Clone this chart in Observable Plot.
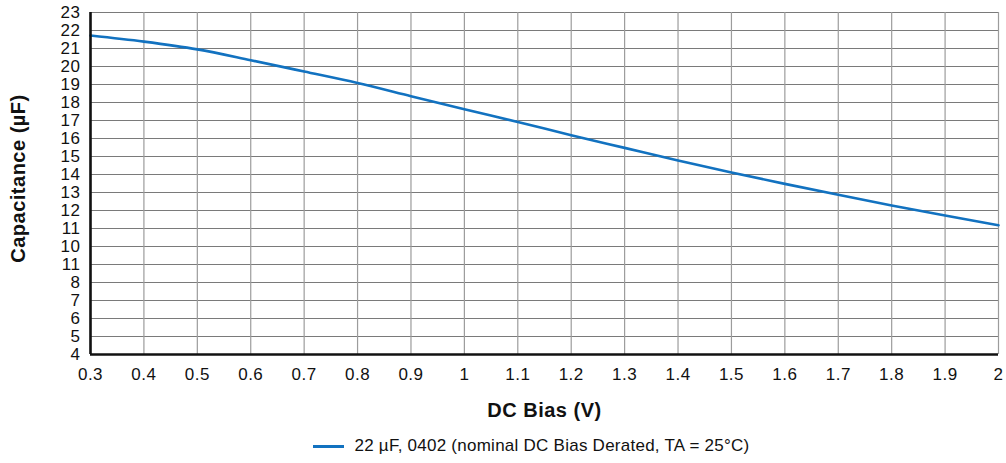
<!DOCTYPE html>
<html>
<head>
<meta charset="utf-8">
<script src="https://cdn.jsdelivr.net/npm/d3@7"></script>
<script src="https://cdn.jsdelivr.net/npm/@observablehq/plot@0.6"></script>
<style>
  html, body { margin: 0; padding: 0; background: #fff; }
  body { width: 1006px; height: 463px; overflow: hidden; font-family: "Liberation Sans", Arial, sans-serif; }
  #legend { display: flex; align-items: center; justify-content: center; height: 42px; padding-left: 57px; font-size: 17px; letter-spacing: 0.25px; color: #111; }
  #legend .sw { width: 31px; height: 0; border-top: 3px solid #1272c0; margin-right: 10px; }
</style>
</head>
<body>
<div id="chart"></div>
<div id="legend"><span class="sw"></span><span id="legtext"></span></div>
<script>
const dcBias = [0.3, 0.4, 0.5, 0.6, 0.7, 0.8, 0.9, 1.0, 1.1, 1.2, 1.3, 1.4, 1.5, 1.6, 1.7, 1.8, 1.9, 2.0];
const capacitance = [21.72, 21.38, 20.95, 20.35, 19.72, 19.08, 18.35, 17.62, 16.92, 16.18, 15.48, 14.78, 14.11, 13.48, 12.87, 12.28, 11.72, 11.18];
const xTicks = [0.3, 0.4, 0.5, 0.6, 0.7, 0.8, 0.9, 1.0, 1.1, 1.2, 1.3, 1.4, 1.5, 1.6, 1.7, 1.8, 1.9, 2.0];
const xTickLabels = ["0.3", "0.4", "0.5", "0.6", "0.7", "0.8", "0.9", "1", "1.1", "1.2", "1.3", "1.4", "1.5", "1.6", "1.7", "1.8", "1.9", "2"];
const yTicks = [4, 5, 6, 7, 8, 9, 10, 11, 12, 13, 14, 15, 16, 17, 18, 19, 20, 21, 22, 23];
const yTickLabels = ["4", "5", "6", "7", "8", "11", "10", "11", "12", "13", "14", "15", "16", "17", "18", "19", "20", "21", "22", "23"];
const xTitle = "DC Bias (V)";
const yTitle = "Capacitance (\u00b5F)";
const seriesName = "22 \u00b5F, 0402 (nominal DC Bias Derated, TA = 25\u00b0C)";

const data = dcBias.map((x, i) => ({x, y: capacitance[i]}));
const xLab = new Map(xTicks.map((t, i) => [t, xTickLabels[i]]));
const yLab = new Map(yTicks.map((t, i) => [t, yTickLabels[i]]));

const chart = Plot.plot({
  width: 1006,
  height: 425,
  marginLeft: 90,
  marginRight: 8,
  marginTop: 12,
  marginBottom: 71,
  style: {fontFamily: "'Liberation Sans', Arial, sans-serif", fontSize: "17px", letterSpacing: "0.5px", color: "#111", background: "#fff"},
  x: {domain: [0.3, 2.0], label: null},
  y: {domain: [4, 23], label: null},
  marks: [
    Plot.ruleY(yTicks, {stroke: "#7a7a7a", strokeWidth: 1, strokeOpacity: 1}),
    Plot.ruleX(xTicks, {stroke: "#9c9c9c", strokeWidth: 1.2, strokeOpacity: 1}),
    Plot.axisX(xTicks, {tickSize: 0, tickPadding: 13, tickFormat: d => xLab.get(d), fontSize: 17, label: null}),
    Plot.axisY(yTicks, {tickSize: 0, tickPadding: 10, tickFormat: d => yLab.get(d), fontSize: 17, label: null}),
    Plot.line(data, {x: "x", y: "y", stroke: "#1272c0", strokeWidth: 2.6, curve: "monotone-x"}),
    Plot.ruleX([0.3], {stroke: "#111", strokeWidth: 2.6}),
    Plot.ruleY([4], {stroke: "#111", strokeWidth: 2.6}),
    Plot.text([xTitle], {frameAnchor: "bottom", dy: 56, lineAnchor: "middle", textAnchor: "middle", text: d => d, fontWeight: "bold", fontSize: 20}),
    Plot.text([yTitle], {frameAnchor: "left", dx: -72, dy: -5, rotate: -90, lineAnchor: "middle", textAnchor: "middle", text: d => d, fontWeight: "bold", fontSize: 20})
  ]
});
document.getElementById("chart").appendChild(chart);
document.getElementById("legtext").textContent = seriesName;
</script>
</body>
</html>
